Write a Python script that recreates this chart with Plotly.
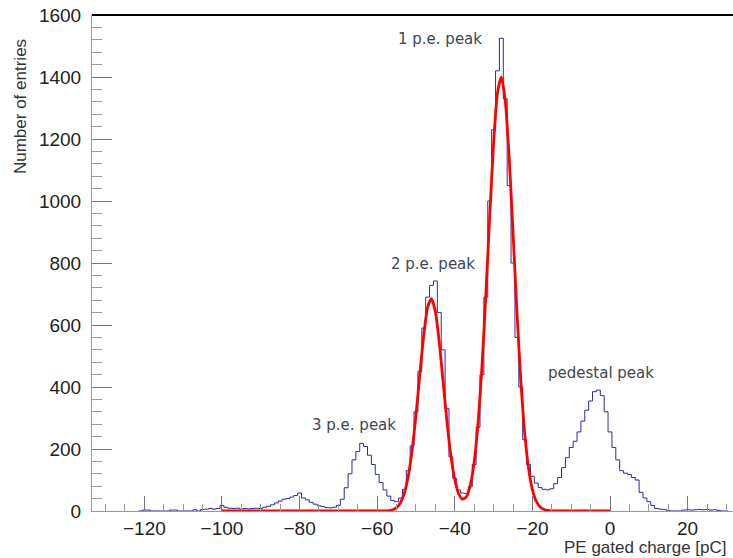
import plotly.graph_objects as go

# ---------------- data ----------------
charge_bins = list(range(-121, 31))  # histogram bin centres [pC], 1 pC wide
entries = [
    0, 3, 3, 0, 0, 0, 0, 0, 3, 3,            # -121..-112
    0, 0, 0, 0, 4, 0, 5, 6, 8, 6,            # -111..-102
    8, 18, 12, 9, 8, 9, 6, 8, 7, 8,          # -101..-92
    9, 8, 12, 15, 20, 26, 32, 38, 40, 45,    # -91..-82
    50, 58, 42, 36, 28, 22, 17, 14, 11, 10,  # -81..-72
    12, 18, 38, 75, 120, 165, 192, 218, 208, 180,   # -71..-62
    150, 118, 92, 68, 48, 34, 30, 42, 70, 130,      # -61..-52
    210, 320, 450, 590, 690, 728, 742, 640, 520, 330,   # -51..-42
    175, 105, 68, 58, 56, 78, 150, 270, 440, 690,       # -41..-32
    1000, 1230, 1420, 1525, 1330, 1050, 800, 560, 400, 230,  # -31..-22
    150, 112, 90, 76, 70, 68, 72, 88, 108, 140,     # -21..-12
    172, 205, 225, 255, 290, 325, 355, 385, 390, 372,   # -11..-2
    320, 255, 205, 165, 130, 122, 118, 108, 100, 60,    # -1..8
    42, 30, 18, 8, 6, 5, 2, 0, 0, 0,         # 9..18
    3, 4, 3, 4, 5, 4, 5, 3, 4, 2,            # 19..28
    0, 0,                                    # 29..30
]

fit_x = list(range(-100, 1))  # fit curve sample points [pC]
fit_y = (
    [0] * 41 +                                # -100..-60
    [0.1, 0.4, 1.4, 4.2, 11.1, 26.7, 57.5, 112, 196.5, 310.4,      # -59..-50
     442.2, 567.7, 656.7, 684.6, 643.2, 544.6, 415.5, 285.8, 177.7, 100.9,  # -49..-40
     55.7, 38.1, 46.0, 83.1, 158.5, 283.5, 465, 696, 951.6, 1186,  # -39..-30
     1349, 1399.4, 1324, 1143, 900.6, 647, 424, 253.7, 138.3, 68.9,  # -29..-20
     31.2, 13, 4.9, 1.7, 0.5] +               # -19..-15
    [0] * 15                                  # -14..0
)

peak_labels = ["1 p.e. peak", "2 p.e. peak", "3 p.e. peak", "pedestal peak"]
peak_label_x = [-43.8, -45.5, -66.0, -2.2]
peak_label_y = [1523, 796, 277, 445]

# ---------------- figure ----------------
edges = [c - 0.5 for c in charge_bins] + [charge_bins[-1] + 0.5]
step_y = entries + [entries[-1]]

fig = go.Figure()
fig.add_trace(go.Scatter(
    x=edges, y=step_y, mode="lines", line_shape="hv",
    line=dict(color="#2a2aa8", width=1), hoverinfo="skip", showlegend=False,
))
fig.add_trace(go.Scatter(
    x=fit_x, y=fit_y, mode="lines", line_shape="spline",
    line=dict(color="#ff0000", width=2.8, smoothing=0.6), hoverinfo="skip", showlegend=False,
))

for t, x, y in zip(peak_labels, peak_label_x, peak_label_y):
    fig.add_annotation(x=x, y=y, text=t, showarrow=False, xanchor="center", yanchor="middle",
                       font=dict(family="DejaVu Sans", size=15, color="#3d4652"))

fig.add_annotation(xref="paper", yref="paper", x=-0.1123, y=0.8145, text="Number of entries",
                   textangle=-90, showarrow=False, xanchor="center", yanchor="middle",
                   font=dict(family="Liberation Sans", size=17, color="#333333"))
fig.add_annotation(xref="paper", yref="paper", x=0.993, y=-0.0726, text="PE gated charge [pC]",
                   showarrow=False, xanchor="right", yanchor="middle",
                   font=dict(family="Liberation Sans", size=17, color="#333333"))

fig.add_shape(type="line", xref="paper", yref="paper", x0=0, x1=1, y0=1, y1=1,
              line=dict(color="black", width=2))

fig.update_layout(
    width=733, height=558,
    margin=dict(l=92, r=0, t=15, b=47),
    paper_bgcolor="white", plot_bgcolor="white",
    font=dict(family="Liberation Sans", size=19, color="#222222"),
)
fig.update_xaxes(
    range=[-133.5, 31.7], showgrid=False, zeroline=False,
    showline=True, linecolor="#9a9a9a", linewidth=1,
    ticks="inside", ticklen=15, tickwidth=1, tickcolor="#777777",
    tick0=0, dtick=20, tickfont=dict(size=19, color="#222222"),
    minor=dict(ticks="inside", ticklen=7, tickcolor="#999999", tick0=0, dtick=5, showgrid=False),
)
fig.update_yaxes(
    range=[0, 1600], showgrid=False, zeroline=False,
    showline=True, linecolor="#9a9a9a", linewidth=1,
    ticks="inside", ticklen=20, tickwidth=1, tickcolor="#777777",
    tick0=0, dtick=200, tickfont=dict(size=19, color="#222222"), ticklabelstandoff=6,
    minor=dict(ticks="inside", ticklen=10, tickcolor="#999999", tick0=0, dtick=40, showgrid=False),
)

# remove the page's default body margin so the figure sits at the window's corner
fig.write_html("out.html", config={"displayModeBar": False},
               post_script="document.body.style.margin='0';")
